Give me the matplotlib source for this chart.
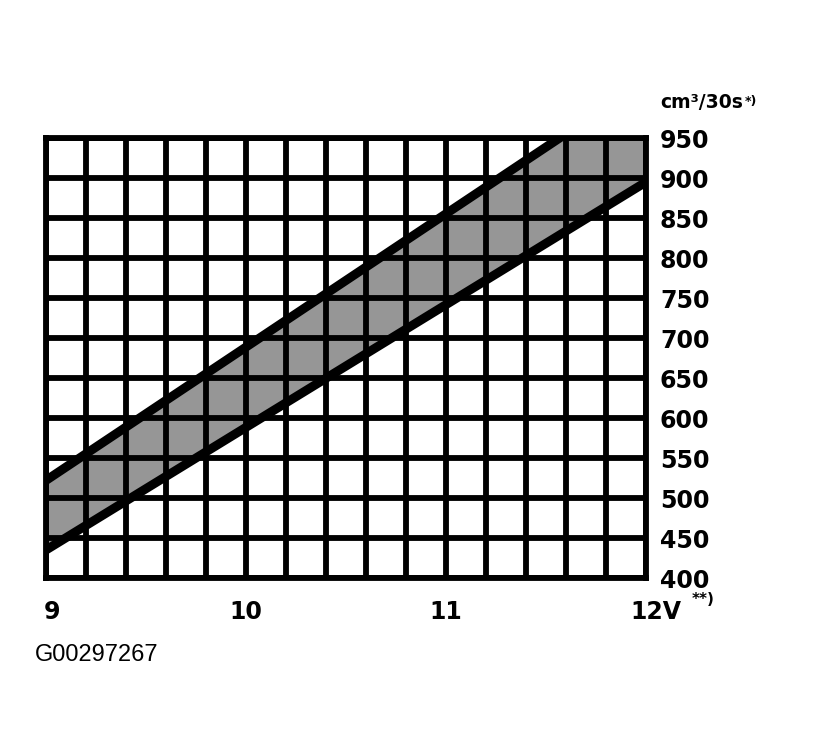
import matplotlib
matplotlib.use('Agg')
import matplotlib.pyplot as plt
import matplotlib.transforms as mtransforms
import numpy as np

# Flow band: voltage (V) vs delivered quantity (cm3 / 30 s)
volts = [9.0, 12.0]
upper = [522, 1022]
lower = [435, 895]

x_ticks = [9, 10, 11, 12]
x_labels = ["9", "10", "11", "12V"]
y_ticks = [400, 450, 500, 550, 600, 650, 700, 750, 800, 850, 900, 950]

fig = plt.figure(figsize=(8.22, 7.36), dpi=100)
fig.patch.set_facecolor('white')
ax = fig.add_axes([46 / 822, 1 - 578 / 736, 600 / 822, 440 / 736])

# shaded band between the two limit lines
ax.fill_between(volts, lower, upper, color='#969696', linewidth=0, zorder=1)
ax.plot(volts, upper, color='black', linewidth=6.5, solid_capstyle='butt', zorder=3)
ax.plot(volts, lower, color='black', linewidth=6.5, solid_capstyle='butt', zorder=3)

ax.set_xlim(9, 12)
ax.set_ylim(400, 950)

# 0.2 V x 50 cm3 grid
ax.set_xticks(np.arange(9, 12.01, 0.2), minor=True)
ax.set_yticks(y_ticks)
ax.set_xticks(x_ticks)
ax.grid(which='both', color='black', linewidth=4.2, zorder=2)
ax.set_axisbelow(False)
for sp in ax.spines.values():
    sp.set_linewidth(4.2)
    sp.set_color('black')

ax.yaxis.tick_right()
ax.tick_params(axis='both', which='both', length=0)
ax.tick_params(axis='y', pad=10, labelsize=17)
ax.tick_params(axis='x', pad=16, labelsize=17)
ax.set_yticklabels([str(v) for v in y_ticks], fontweight='bold')
ax.set_xticklabels(x_labels, fontweight='bold')

# nudge first and last x labels like the original
xl = ax.get_xticklabels()
xl[0].set_transform(xl[0].get_transform() +
                    mtransforms.ScaledTranslation(6 / 100, 0, fig.dpi_scale_trans))
xl[-1].set_ha('left')
xl[-1].set_transform(xl[-1].get_transform() +
                     mtransforms.ScaledTranslation(-16 / 100, 0, fig.dpi_scale_trans))

fig.text(692 / 822, 1 - 600 / 736, "**)", fontsize=11, fontweight='bold',
         ha='left', va='center')

# unit label top right
unit = fig.text(660 / 822, 1 - 102 / 736, "cm³/30s", fontsize=13.5, fontweight='bold',
                ha='left', va='center')
ax.annotate("*)", xy=(1, 1), xycoords=unit, xytext=(1, -2), textcoords='offset points',
            fontsize=9, fontweight='bold', ha='left', va='top', annotation_clip=False)

fig.text(35 / 822, 1 - 655 / 736, "G00297267", fontsize=17,
         family='Liberation Sans', ha='left', va='center')

plt.savefig('out.png', dpi=100, facecolor='white')
